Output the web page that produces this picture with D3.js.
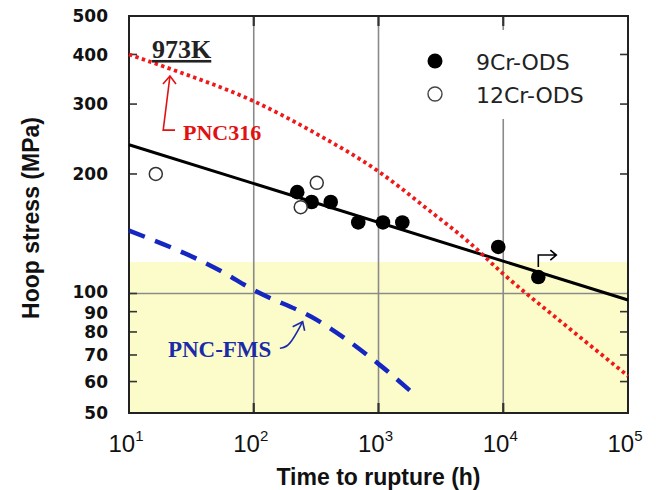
<!DOCTYPE html>
<html>
<head>
<meta charset="utf-8">
<script src="https://cdn.jsdelivr.net/npm/d3@7"></script>
<style>
  body { margin: 0; background: #fff; }
  svg { display: block; }
</style>
</head>
<body>
<svg id="chart" width="656" height="490"></svg>
<script>
// ---- data (time to rupture in h, hoop stress in MPa) ----
const odsFitT = [10, 100000];
const odsFitS = [237, 96.3];

const cr9T = [223, 291, 414, 688, 1086, 1552, 9120, 19100];
const cr9S = [180, 170, 170, 151, 151, 151, 131, 110];

const cr12T = [16.4, 238, 320];
const cr12S = [200, 165, 190];

const pnc316T = [10, 20.9, 100, 314, 1000, 2540, 5400, 9700, 30300, 100000];
const pnc316S = [400, 369, 305, 253, 203, 162, 134, 113, 84, 62];

const fmsT = [10, 52.6, 100, 320, 1028, 1963];
const fmsS = [144, 114.6, 102, 85.8, 66, 55.5];

const yTicks = [500, 400, 300, 200, 100, 90, 80, 70, 60, 50];
const yTicksRight = [400, 300, 200, 90, 80, 70, 60];
const xDecades = [1, 2, 3, 4, 5];
const xGrid = [100, 1000, 10000];
const yGrid = [100];
const safeBand = [50, 120];

const svg = d3.select('#chart');

const margin = { left: 129, right: 28, top: 16, bottom: 77 };
const W = 656, H = 490;

const x = d3.scaleLog().domain([10, 100000]).range([margin.left, W - margin.right]);
const y = d3.scaleLog().domain([50, 500]).range([H - margin.bottom, margin.top]);

const zip = (a, b) => a.map((v, i) => [v, b[i]]);

// yellow band
svg.append('rect')
    .attr('x', x(10))
    .attr('y', y(safeBand[1]))
    .attr('width', x(100000) - x(10))
    .attr('height', y(safeBand[0]) - y(safeBand[1]))
    .attr('fill', '#fcfccb');

// grid
svg.selectAll('.vgrid').data(xGrid).enter().append('line')
    .attr('x1', d => x(d)).attr('x2', d => x(d))
    .attr('y1', y(500)).attr('y2', y(50))
    .attr('stroke', '#8a8a8a').attr('stroke-width', 1.6);
svg.selectAll('.hgrid').data(yGrid).enter().append('line')
    .attr('x1', x(10)).attr('x2', x(100000))
    .attr('y1', d => y(d)).attr('y2', d => y(d))
    .attr('stroke', '#8a8a8a').attr('stroke-width', 1.6);

// legend box (white, hides grid)
const lg = svg.append('g').attr('transform', 'translate(408,30)');
lg.append('rect').attr('width', 200).attr('height', 89).attr('fill', '#fff');

// ticks
const tk = svg.append('g').attr('stroke', '#333').attr('stroke-width', 1.6);
tk.selectAll('.tl').data(yTicks).enter().append('line')
    .attr('x1', x(10)).attr('x2', x(10) + 8)
    .attr('y1', d => y(d)).attr('y2', d => y(d));
tk.selectAll('.tr').data(yTicksRight).enter().append('line')
    .attr('x1', x(100000)).attr('x2', x(100000) - 8)
    .attr('y1', d => y(d)).attr('y2', d => y(d));
tk.selectAll('.tb').data(xGrid).enter().append('line')
    .attr('x1', d => x(d)).attr('x2', d => x(d))
    .attr('y1', y(50)).attr('y2', y(50) - 10).attr('stroke-width', 2.2);
tk.selectAll('.tt').data(xGrid).enter().append('line')
    .attr('x1', d => x(d)).attr('x2', d => x(d))
    .attr('y1', y(500)).attr('y2', y(500) + 10).attr('stroke-width', 2.2);

// frame
svg.append('rect')
    .attr('x', x(10)).attr('y', y(500))
    .attr('width', x(100000) - x(10)).attr('height', y(50) - y(500))
    .attr('fill', 'none').attr('stroke', '#222').attr('stroke-width', 2);

// curves
const line = d3.line().x(d => x(d[0])).y(d => y(d[1]));
const curve = d3.line().x(d => x(d[0])).y(d => y(d[1])).curve(d3.curveMonotoneX);

svg.append('path').datum(zip(fmsT, fmsS))
    .attr('d', curve).attr('fill', 'none')
    .attr('stroke', '#1626c0').attr('stroke-width', 4.5)
    .attr('stroke-dasharray', '17,11');

svg.append('path').datum(zip(odsFitT, odsFitS))
    .attr('d', line).attr('fill', 'none')
    .attr('stroke', '#000').attr('stroke-width', 3);

svg.append('path').datum(zip(pnc316T, pnc316S))
    .attr('d', curve).attr('fill', 'none')
    .attr('stroke', '#f01818').attr('stroke-width', 3.8)
    .attr('stroke-dasharray', '3.4,3.4');

// points
svg.selectAll('.p9').data(zip(cr9T, cr9S)).enter().append('circle')
    .attr('cx', d => x(d[0])).attr('cy', d => y(d[1])).attr('r', 7.3)
    .attr('fill', '#000');
svg.selectAll('.p12').data(zip(cr12T, cr12S)).enter().append('circle')
    .attr('cx', d => x(d[0])).attr('cy', d => y(d[1])).attr('r', 6.5)
    .attr('fill', '#fff').attr('stroke', '#333').attr('stroke-width', 1.5);

// run-out arrow on last point
const ro = cr9T.length - 1;
const rx = x(cr9T[ro]), ry = y(cr9S[ro]);
svg.append('path')
    .attr('d', `M${rx},${ry - 10} V${ry - 22} H${rx + 17} M${rx + 12},${ry - 27} L${rx + 18},${ry - 22} L${rx + 12},${ry - 17}`)
    .attr('fill', 'none').attr('stroke', '#000').attr('stroke-width', 1.6);

// axis labels (100 / 90 nudged apart a touch, they sit very close)
const nudge = d => d === 100 ? -1.5 : d === 90 ? 1.5 : 0;
const yl = svg.append('g')
    .attr('font-family', 'DejaVu Sans, sans-serif')
    .attr('font-weight', 'bold').attr('font-size', 17).attr('fill', '#111');
yl.selectAll('text').data(yTicks).enter().append('text')
    .attr('x', 108).attr('y', d => y(d) + nudge(d)).attr('dy', '0.36em')
    .attr('text-anchor', 'end').text(d => d);

const xl = svg.append('g')
    .attr('font-family', 'Liberation Sans, Arial, sans-serif')
    .attr('font-size', 24).attr('fill', '#111');
xDecades.forEach(p => {
    const t = xl.append('text').attr('x', x(Math.pow(10, p)) - 3).attr('y', 452).attr('text-anchor', 'middle');
    t.append('tspan').text('10');
    t.append('tspan').attr('font-size', 15).attr('dy', -11).text(p);
});

svg.append('text')
    .attr('x', (x(10) + x(100000)) / 2).attr('y', 485)
    .attr('text-anchor', 'middle')
    .attr('font-family', 'Liberation Sans, Arial, sans-serif')
    .attr('font-weight', 'bold').attr('font-size', 23).attr('fill', '#111')
    .text('Time to rupture (h)');

svg.append('text')
    .attr('transform', 'translate(39,218) rotate(-90)')
    .attr('text-anchor', 'middle')
    .attr('font-family', 'Liberation Sans, Arial, sans-serif')
    .attr('font-weight', 'bold').attr('font-size', 23).attr('fill', '#111')
    .text('Hoop stress (MPa)');

// legend
lg.append('circle').attr('cx', 27).attr('cy', 31).attr('r', 7.5).attr('fill', '#000');
lg.append('circle').attr('cx', 27).attr('cy', 64).attr('r', 7).attr('fill', '#fff')
    .attr('stroke', '#444').attr('stroke-width', 1.4);
lg.append('text').attr('x', 68).attr('y', 40).text('9Cr-ODS');
lg.append('text').attr('x', 68).attr('y', 73).text('12Cr-ODS');
lg.selectAll('text')
    .attr('font-family', 'DejaVu Sans, sans-serif').attr('font-size', 22).attr('fill', '#222');

// annotations
const serif = 'Liberation Serif, Times New Roman, serif';
svg.append('text')
    .attr('x', x(15.3)).attr('y', y(392))
    .attr('font-family', serif).attr('font-weight', 'bold').attr('font-size', 26)
    .attr('fill', '#222').attr('text-decoration', 'underline')
    .text('973K');

svg.append('text')
    .attr('x', x(27.1)).attr('y', y(243.7))
    .attr('font-family', serif).attr('font-weight', 'bold').attr('font-size', 22)
    .attr('fill', '#e21010').text('PNC316');

svg.append('text')
    .attr('x', x(20.5)).attr('y', y(69.2))
    .attr('font-family', serif).attr('font-weight', 'bold').attr('font-size', 23)
    .attr('fill', '#1a2aa8').text('PNC-FMS');

// red arrow
const rA = [[23.4, 258], [18.8, 258], [21.3, 353]];
svg.append('path')
    .attr('d', d3.line().x(d => x(d[0])).y(d => y(d[1]))(rA))
    .attr('fill', 'none').attr('stroke', '#e21010').attr('stroke-width', 1.6);
const rtx = x(21.3), rty = y(353);
svg.append('path')
    .attr('d', `M${rtx - 7},${rty + 8} L${rtx},${rty} L${rtx + 6},${rty + 8}`)
    .attr('fill', 'none').attr('stroke', '#e21010').attr('stroke-width', 1.6);

// blue arrow
const bA = [[162, 72.8], [193, 73.4], [246.6, 84.9]];
svg.append('path')
    .attr('d', d3.line().x(d => x(d[0])).y(d => y(d[1])).curve(d3.curveBasis)(bA))
    .attr('fill', 'none').attr('stroke', '#1a2aa8').attr('stroke-width', 1.6);
const btx = x(246.6), bty = y(84.9);
svg.append('path')
    .attr('d', `M${btx - 10},${bty + 5} L${btx},${bty} L${btx + 2},${bty + 9}`)
    .attr('fill', 'none').attr('stroke', '#1a2aa8').attr('stroke-width', 1.6);
</script>
</body>
</html>
